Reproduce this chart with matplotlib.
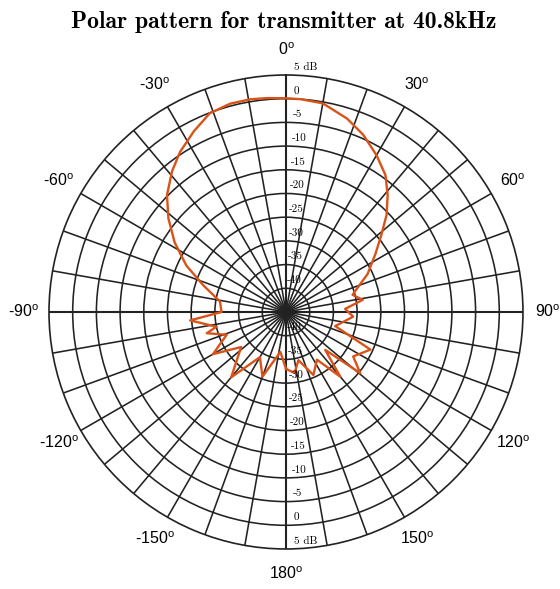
import numpy as np
import matplotlib
matplotlib.use("Agg")
import matplotlib.pyplot as plt

# measured directivity of the transmitter (compass angle, level in dB)
angle_deg = [-180, -172, -160, -150, -140, -128, -120, -111, -105, -102,
             -95, -90, -81, -72, -65, -58, -51.5, -45.5, -39, -33.5,
             -27, -21, -15, -9.5, -5, 0, 4, 10, 17.5, 23.5,
             30, 36, 41, 46, 51, 57, 65, 75.5, 81, 87,
             94, 106, 114, 123.5, 129.5, 134, 140, 147, 156.5, 165.5,
             172, 180]
gain_db = [-33, -36.5, -30.5, -34, -27, -33, -27.2, -31.6, -27.7, -30,
           -24.7, -31.4, -30.9, -26.6, -21.8, -17.3, -13.3, -9.8, -6.8, -4.5,
           -2.2, -0.1, 0.5, 0.5, 0.3, 0.1, 0.0, -0.3, -2.2, -4.2,
           -6.8, -9.3, -12.3, -15.5, -19.1, -22.5, -26, -30.5, -28.6, -32.5,
           -30.8, -34.2, -25.5, -28, -24.7, -33.5, -27.2, -33, -30.5, -34.5,
           -32, -33]

ring_db = [5, 0, -5, -10, -15, -20, -25, -30, -35, -40]
ring_labels = ["5 dB", "0", "-5", "-10", "-15", "-20", "-25", "-30", "-35", "-40"]
dir_deg = [0, 30, 60, 90, 120, 150, 180, -150, -120, -90, -60, -30]
dir_labels = ["0", "30", "60", "90", "120", "150", "180", "-150", "-120", "-90", "-60", "-30"]

plt.rcParams["mathtext.fontset"] = "custom"
plt.rcParams["mathtext.rm"] = "Liberation Sans"

fig = plt.figure(figsize=(5.6, 5.89), dpi=100)
ax = fig.add_axes([0.0875, 0.0679, 0.8464, 0.8048], projection="polar")
ax.set_theta_zero_location("N")
ax.set_theta_direction(-1)
ax.set_rlim(-45, 5)

gcol = "#222222"
ax.set_thetagrids(np.arange(0, 360, 10), labels=[""] * 36)
ax.set_rgrids(ring_db[1:], labels=[""] * (len(ring_db) - 1))
ax.grid(True, color=gcol, lw=1.15, ls="-")
for i, gl in enumerate(ax.xaxis.get_gridlines()):
    if i % 9 == 0:
        gl.set_linewidth(1.5)
ax.spines["polar"].set_color(gcol)
ax.spines["polar"].set_linewidth(1.2)
ax.tick_params(length=0)

ax.plot(np.deg2rad(angle_deg), gain_db, color="#D95319", lw=1.7)

# level labels along the 0 and 180 degree spokes
for r, lab in zip(ring_db, ring_labels):
    for th in (2, 178):
        ax.annotate(lab, xy=(np.deg2rad(th), r), xytext=(0, 8),
                    textcoords="offset pixels", ha="left", va="center",
                    fontsize=8, family="cmr10", color="black",
                    annotation_clip=False)

# direction labels round the outside
for d, lab in zip(dir_deg, dir_labels):
    ax.text(np.deg2rad(d), 10.3, lab + r"$^{\mathrm{o}}$", ha="center", va="center",
            fontsize=11.5, family="Liberation Sans", color="black")

fig.text(0.507, 1 - 22 / 589, "Polar pattern for transmitter at 40.8kHz",
         ha="center", va="center", fontsize=17, family="cmb10", color="black")

fig.savefig("out.png", dpi=100)
